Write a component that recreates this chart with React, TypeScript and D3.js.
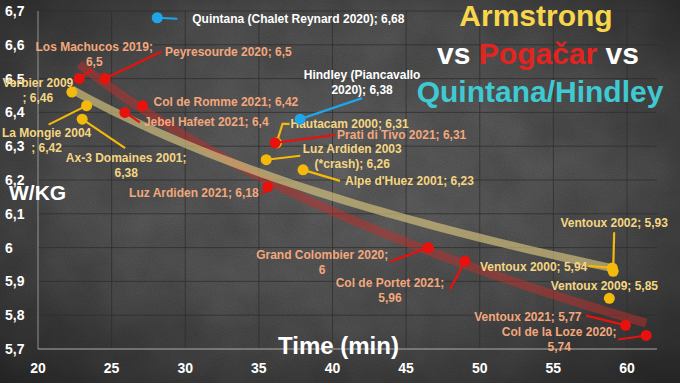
import React from 'react';
import * as d3 from 'd3';

const xTicks = [20, 25, 30, 35, 40, 45, 50, 55, 60];
const yTicks = [5.7, 5.8, 5.9, 6.0, 6.1, 6.2, 6.3, 6.4, 6.5, 6.6, 6.7];

const armstrongLabels = [
  ['Verbier 2009', '; 6,46'],
  ['La Mongie 2004', '; 6,42'],
  ['Ax-3 Domaines 2001;', '6,38'],
  ['Hautacam 2000; 6,31'],
  ['Luz Ardiden 2003', '(*crash); 6,26'],
  ["Alpe d'Huez 2001; 6,23"],
  ['Ventoux 2002; 5,93'],
  ['Ventoux 2000; 5,94'],
  ['Ventoux 2009; 5,85'],
];
const armstrongTime = [22.3, 23.3, 23.0, 36.2, 35.5, 38.0, 59.06, 59.0, 58.8];
const armstrongWkg = [6.46, 6.42, 6.38, 6.31, 6.26, 6.23, 5.93, 5.94, 5.85];

const pogacarLabels = [
  ['Los Machucos 2019;', '6,5'],
  ['Peyresourde 2020; 6,5'],
  ['Col de Romme 2021; 6,42'],
  ['Jebel Hafeet 2021; 6,4'],
  ['Prati di Tivo 2021; 6,31'],
  ['Luz Ardiden 2021; 6,18'],
  ['Grand Colombier 2020;', '6'],
  ['Col de Portet 2021;', '5,96'],
  ['Ventoux 2021; 5,77'],
  ['Col de la Loze 2020;', '5,74'],
];
const pogacarTime = [22.8, 24.55, 27.1, 25.9, 36.1, 35.6, 46.5, 49.0, 59.9, 61.3];
const pogacarWkg = [6.5, 6.5, 6.42, 6.4, 6.31, 6.18, 6.0, 5.96, 5.77, 5.74];

const othersLabels = [
  ['Quintana (Chalet Reynard 2020); 6,68'],
  ['Hindley (Piancavallo', '2020); 6,38'],
];
const othersTime = [28.1, 37.8];
const othersWkg = [6.68, 6.38];

type Layout = { dx: number; dy: number; anchor: 'start' | 'middle' | 'end'; leader: number[][] };

// label placement offsets (px, relative to the point)
const armstrongLayout: Layout[] = [
  { dx: -34, dy: -5, anchor: 'middle', leader: [] },
  { dx: -40, dy: 31, anchor: 'middle', leader: [[0, 0], [-38, 19]] },
  { dx: 44, dy: 43, anchor: 'middle', leader: [[0, 0], [43, 29]] },
  { dx: 14, dy: -15, anchor: 'start', leader: [[0, 0], [6, -19], [13, -19]] },
  { dx: 86, dy: -7, anchor: 'middle', leader: [[0, 0], [34, -4]] },
  { dx: 42, dy: 15, anchor: 'start', leader: [[0, 0], [37, 11]] },
  { dx: 1, dy: -44, anchor: 'middle', leader: [[0, 0], [1, -39]] },
  { dx: -25, dy: 3, anchor: 'end', leader: [[0, 0], [-24, -2]] },
  { dx: -5, dy: -8, anchor: 'middle', leader: [] },
];
const pogacarLayout: Layout[] = [
  { dx: 15, dy: -28, anchor: 'middle', leader: [[0, 0], [13, -9]] },
  { dx: 60, dy: -23, anchor: 'start', leader: [[0, 0], [57, -27]] },
  { dx: 11, dy: 0, anchor: 'start', leader: [] },
  { dx: 19, dy: 14, anchor: 'start', leader: [[0, 0], [15, 10]] },
  { dx: 62, dy: -4, anchor: 'start', leader: [[0, 0], [60, -8]] },
  { dx: -9, dy: 10, anchor: 'end', leader: [[0, 0], [-2, 5], [-6, 6]] },
  { dx: -106, dy: 11, anchor: 'middle', leader: [[0, 0], [-38, 14]] },
  { dx: -75, dy: 26, anchor: 'middle', leader: [[0, 0], [-15, 28]] },
  { dx: -44, dy: -4, anchor: 'end', leader: [[0, 0], [-40, -10]] },
  { dx: -87, dy: 1, anchor: 'middle', leader: [[0, 0], [-28, 4]] },
];
const othersLayout: Layout[] = [
  { dx: 35, dy: 5, anchor: 'start', leader: [[0, 0], [20, 1]] },
  { dx: 62, dy: -40, anchor: 'middle', leader: [[0, 0], [62, -21]] },
];

const W = 680;
const H = 383;
const x = d3.scaleLinear().domain([20, 60]).range([38, 627]);
const y = d3.scaleLinear().domain([5.7, 6.7]).range([349, 11]);
const xMax = x.invert(657);

function logFit(xs: number[], ys: number[]) {
  const lx = xs.map((v) => Math.log(v));
  const mx = d3.mean(lx)!;
  const my = d3.mean(ys)!;
  let num = 0;
  let den = 0;
  lx.forEach((v, i) => {
    num += (v - mx) * (ys[i] - my);
    den += (v - mx) * (v - mx);
  });
  const b = num / den;
  const a = my - b * mx;
  const [lo, hi] = d3.extent(xs) as [number, number];
  const pts = d3.range(0, 41).map((i) => {
    const t = lo + ((hi - lo) * i) / 40;
    return [t, a + b * Math.log(t)] as [number, number];
  });
  return pts;
}

const line = d3
  .line<[number, number]>()
  .x((d) => x(d[0]))
  .y((d) => y(d[1]))
  .curve(d3.curveMonotoneX);

const FONT = "'Liberation Sans', Arial, sans-serif";

function Series({
  labels, time, wkg, layout, dot, leaderColor, textColor,
}: {
  labels: string[][]; time: number[]; wkg: number[]; layout: Layout[];
  dot: string; leaderColor: string; textColor: string;
}) {
  return (
    <g>
      {time.map((t, i) => {
        const px = x(t);
        const py = y(wkg[i]);
        const L = layout[i];
        return (
          <g key={'l' + i}>
            {L.leader.length > 1 && (
              <polyline
                points={L.leader.map((p) => `${px + p[0]},${py + p[1]}`).join(' ')}
                fill="none"
                stroke={leaderColor}
                strokeWidth={2.2}
              />
            )}
            <circle cx={px} cy={py} r={5.5} fill={dot} />
          </g>
        );
      })}
      {time.map((t, i) => {
        const px = x(t);
        const py = y(wkg[i]);
        const L = layout[i];
        return (
          <text
            key={'t' + i}
            x={px + L.dx}
            y={py + L.dy}
            textAnchor={L.anchor}
            fill={textColor}
            fontFamily={FONT}
            fontWeight="bold"
            fontSize={12}
          >
            {labels[i].map((s, j) => (
              <tspan key={j} x={px + L.dx} dy={j === 0 ? 0 : 15}>
                {s}
              </tspan>
            ))}
          </text>
        );
      })}
    </g>
  );
}

export default function App() {
  const redTrend = logFit(pogacarTime, pogacarWkg);
  const yellowTrend = logFit(armstrongTime, armstrongWkg);
  const vGrid = xTicks.filter((t) => t > 20);
  const hGrid = yTicks.filter((t) => t > 5.7);
  return (
    <svg width={W} height={H} style={{ position: 'absolute', left: 0, top: 0, display: 'block' }}>
      <defs>
        <radialGradient id="bg" cx="50%" cy="45%" r="75%">
          <stop offset="0%" stopColor="#707070" />
          <stop offset="55%" stopColor="#5a5a5a" />
          <stop offset="100%" stopColor="#2c2c2c" />
        </radialGradient>
        <filter id="noise" x="0" y="0" width="100%" height="100%">
          <feTurbulence type="fractalNoise" baseFrequency="0.9" numOctaves={2} seed={3} />
          <feColorMatrix type="matrix" values="0 0 0 0 0  0 0 0 0 0  0 0 0 0 0  0 0 0 0.55 0" />
        </filter>
        <filter id="blotch" x="0" y="0" width="100%" height="100%">
          <feTurbulence type="fractalNoise" baseFrequency="0.02" numOctaves={3} seed={7} />
          <feColorMatrix type="matrix" values="0 0 0 0 0  0 0 0 0 0  0 0 0 0 0  0 0 0 0.35 0" />
        </filter>
      </defs>
      <rect width={W} height={H} fill="url(#bg)" />
      <rect width={W} height={H} filter="url(#blotch)" opacity={0.6} />
      <rect width={W} height={H} filter="url(#noise)" opacity={0.35} />

      {/* grid */}
      <g stroke="#2e2e2e" strokeOpacity={0.75} strokeWidth={1}>
        {vGrid.map((t) => (
          <line key={'v' + t} x1={x(t)} x2={x(t)} y1={y(6.7)} y2={y(5.7)} />
        ))}
        {hGrid.map((t) => (
          <line key={'h' + t} x1={x(20)} x2={x(xMax)} y1={y(t)} y2={y(t)} />
        ))}
      </g>
      <line x1={x(20)} x2={x(20)} y1={y(6.7)} y2={y(5.7)} stroke="#b8b8b8" strokeOpacity={0.7} />
      <line x1={x(20)} x2={x(xMax)} y1={y(5.7)} y2={y(5.7)} stroke="#c8c8c8" strokeOpacity={0.8} />

      {/* tick labels */}
      <g fill="#ffffff" fontFamily={FONT} fontWeight="bold" fontSize={14}>
        {yTicks.map((t) => (
          <text key={'yt' + t} x={5} y={y(t) + 5}>
            {d3.format('.1f')(t).replace('.0', '').replace('.', ',')}
          </text>
        ))}
        {xTicks.map((t) => (
          <text key={'xt' + t} x={x(t)} y={373} textAnchor="middle">
            {t}
          </text>
        ))}
      </g>

      {/* trend lines */}
      <path d={line(redTrend) || ''} fill="none" stroke="#c0302e" strokeOpacity={0.5} strokeWidth={9} />
      <path d={line(yellowTrend) || ''} fill="none" stroke="#d9c47e" strokeOpacity={0.65} strokeWidth={8} />

      {/* axis titles */}
      <text x={9} y={200} fill="#ffffff" fontFamily={FONT} fontWeight="bold" fontSize={21}>
        W/KG
      </text>
      <text x={278} y={354} fill="#ffffff" fontFamily={FONT} fontWeight="bold" fontSize={24}>
        Time (min)
      </text>

      <Series labels={armstrongLabels} time={armstrongTime} wkg={armstrongWkg} layout={armstrongLayout}
        dot="#f3b90b" leaderColor="#f3b90b" textColor="#f4d683" />
      <Series labels={pogacarLabels} time={pogacarTime} wkg={pogacarWkg} layout={pogacarLayout}
        dot="#e8110d" leaderColor="#e8110d" textColor="#f3a77c" />
      <Series labels={othersLabels} time={othersTime} wkg={othersWkg} layout={othersLayout}
        dot="#1ea6e8" leaderColor="#1ea6e8" textColor="#ffffff" />

      {/* title */}
      <g fontFamily={FONT} fontWeight="bold" fontSize={30} textAnchor="middle">
        <text x={536} y={26} fill="#f8d64b">Armstrong</text>
        <text x={538} y={64}>
          <tspan fill="#ffffff">vs </tspan>
          <tspan fill="#e5231f">Pogačar</tspan>
          <tspan fill="#ffffff"> vs</tspan>
        </text>
        <text x={540} y={102} fill="#3fcad3">Quintana/Hindley</text>
      </g>
    </svg>
  );
}
